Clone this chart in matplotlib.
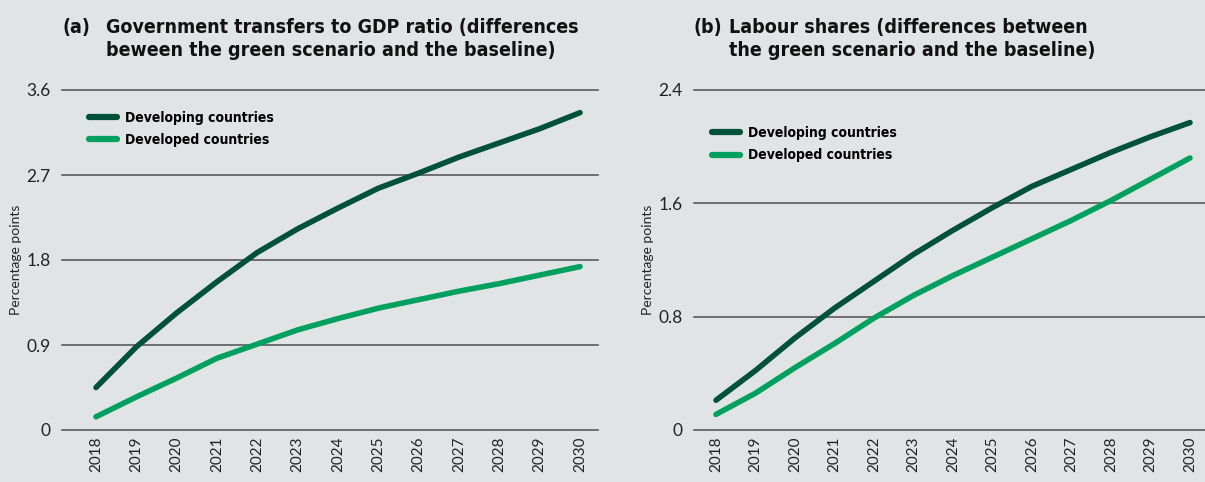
import matplotlib
matplotlib.use("Agg")
import matplotlib.pyplot as plt
from matplotlib import font_manager

# Données
years = list(range(2018, 2031))

transfers_developing = [0.45, 0.88, 1.24, 1.57, 1.88, 2.13, 2.35, 2.56, 2.72, 2.89, 3.04, 3.19, 3.36]
transfers_developed = [0.14, 0.35, 0.55, 0.76, 0.91, 1.06, 1.18, 1.29, 1.38, 1.47, 1.55, 1.64, 1.73]

labour_developing = [0.21, 0.42, 0.65, 0.86, 1.05, 1.24, 1.41, 1.57, 1.72, 1.84, 1.96, 2.07, 2.17]
labour_developed = [0.11, 0.26, 0.44, 0.61, 0.79, 0.95, 1.09, 1.22, 1.35, 1.48, 1.62, 1.77, 1.92]

yticks_a = [0, 0.9, 1.8, 2.7, 3.6]
ytick_labels_a = ["0", "0.9", "1.8", "2.7", "3.6"]
yticks_b = [0, 0.8, 1.6, 2.4]
ytick_labels_b = ["0", "0.8", "1.6", "2.4"]

series_labels = ["Developing countries", "Developed countries"]

BG = "#e1e4e5"
DARK = "#00513a"
LIGHT = "#00a060"
GRID = "#5a5a5a"

# police condensée pour titres et légende (DejaVu Sans Condensed si dispo)
condensed = [f for f in font_manager.fontManager.ttflist
             if f.name == "DejaVu Sans" and f.stretch == "condensed" and f.weight == 700]
if condensed:
    bold_font = font_manager.FontProperties(fname=condensed[0].fname)
else:
    bold_font = font_manager.FontProperties(family="DejaVu Sans", weight="bold", stretch="condensed")

tick_family = "Lato"

W, H = 1205, 482
fig = plt.figure(figsize=(W / 100, H / 100), dpi=100, facecolor=BG)


def px_axes(x0, x1, y0, y1):
    return fig.add_axes([x0 / W, 1 - y1 / H, (x1 - x0) / W, (y1 - y0) / H])


def draw_panel(ax, dev, devd, yticks, ylabels, xlim, legend_xy):
    ax.set_facecolor(BG)
    ax.plot(years, dev, color=DARK, lw=4, solid_capstyle="round", label=series_labels[0], zorder=3)
    ax.plot(years, devd, color=LIGHT, lw=4, solid_capstyle="round", label=series_labels[1], zorder=3)
    ax.set_xlim(*xlim)
    ax.set_ylim(yticks[0], yticks[-1])
    ax.set_yticks(yticks)
    ax.set_yticklabels(ylabels, fontfamily=tick_family, fontsize=12.5, color="#222222")
    ax.set_xticks(years)
    ax.set_xticklabels([str(y) for y in years], rotation=90, fontfamily=tick_family,
                       fontsize=11, color="#222222", va="top")
    ax.tick_params(length=0, pad=5)
    ax.tick_params(axis="y", pad=8)
    for s in ax.spines.values():
        s.set_visible(False)
    for t in yticks:
        ax.axhline(t, color=GRID, lw=1.2, zorder=1, clip_on=False)
    ax.set_ylabel("Percentage points", fontfamily=tick_family, fontsize=10,
                  color="#222222", labelpad=3)
    fp = bold_font.copy()
    fp.set_size(10)
    leg = ax.legend(loc="upper left", bbox_to_anchor=legend_xy, frameon=False,
                    handlelength=2.0, handletextpad=0.6, labelspacing=0.6,
                    borderaxespad=0, prop=fp)
    for h in leg.get_lines():
        h.set_linewidth(4.5)
    return ax


ax_a = px_axes(62, 598, 90, 430)
draw_panel(ax_a, transfers_developing, transfers_developed, yticks_a, ytick_labels_a,
           (2017.157, 2030.446), (0.04, 0.955))

ax_b = px_axes(694, 1205, 90, 430)
draw_panel(ax_b, labour_developing, labour_developed, yticks_b, ytick_labels_b,
           (2017.443, 2030.38), (0.025, 0.91))

tfp = bold_font.copy()
tfp.set_size(14)
title_kw = dict(fontproperties=tfp, color="#111111", va="center")
fig.text(63 / W, 1 - 27 / H, "(a)", **title_kw)
fig.text(106 / W, 1 - 27 / H, "Government transfers to GDP ratio (differences", **title_kw)
fig.text(106 / W, 1 - 50 / H, "beween the green scenario and the baseline)", **title_kw)
fig.text(694 / W, 1 - 27 / H, "(b)", **title_kw)
fig.text(729 / W, 1 - 27 / H, "Labour shares (differences between", **title_kw)
fig.text(729 / W, 1 - 50 / H, "the green scenario and the baseline)", **title_kw)

fig.savefig("out.png", dpi=100, facecolor=BG)
